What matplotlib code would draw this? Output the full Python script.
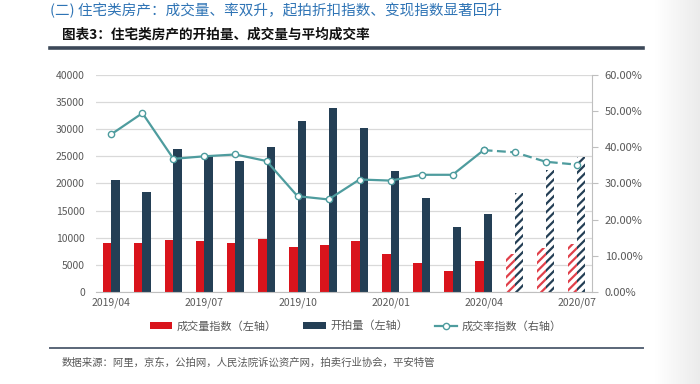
import matplotlib
matplotlib.use("Agg")
import matplotlib.pyplot as plt
import numpy as np
from matplotlib.lines import Line2D
from matplotlib.patches import Patch
from matplotlib.colors import LinearSegmentedColormap
from matplotlib.ticker import FuncFormatter, MultipleLocator

plt.rcParams["font.family"] = ["Noto Sans CJK SC", "DejaVu Sans"]
plt.rcParams["hatch.linewidth"] = 1.6

# Monthly data, 2019/04 - 2020/07 (last three months are forecasts, drawn hatched/dashed)
months = ["2019/04", "2019/05", "2019/06", "2019/07", "2019/08", "2019/09",
          "2019/10", "2019/11", "2019/12", "2020/01", "2020/02", "2020/03",
          "2020/04", "2020/05", "2020/06", "2020/07"]
deal_index = [9000, 9150, 9650, 9400, 9150, 9750, 8400, 8650, 9400, 6950,
              5450, 3850, 5700, 7050, 8100, 8850]
auction_count = [20700, 18400, 26250, 25000, 24050, 26800, 31500, 33900, 30150,
                 22250, 17250, 11950, 14450, 18250, 22400, 24800]
deal_rate = [43.6, 49.4, 36.8, 37.5, 38.0, 36.2, 26.5, 25.6, 31.1, 30.8,
             32.4, 32.4, 39.2, 38.6, 36.0, 35.2]
n_actual = 13  # first 13 months are actual values
tick_labels = ["2019/04", "2019/07", "2019/10", "2020/01", "2020/04", "2020/07"]

RED = "#d9141c"
NAVY = "#243f55"
TEAL = "#4e9c9e"
GRID = "#d9d9d9"
TXT = "#595959"

fig = plt.figure(figsize=(7, 3.84), dpi=100)

# light gray page edge on the right
bg = fig.add_axes([0.935, 0, 0.065, 1])
grad = np.linspace(0, 1, 50).reshape(1, -1)
bg.imshow(grad, aspect="auto", extent=[0, 1, 0, 1],
          cmap=LinearSegmentedColormap.from_list("edge", ["#ffffff", "#ebebeb"]))
bg.axis("off")

ax = fig.add_axes([0.137, 0.2388, 0.709, 0.5667])
ax2 = ax.twinx()

x = np.arange(len(months))
w = 0.28
for i in x:
    if i >= n_actual:
        ax.bar(i - w / 2, deal_index[i], w, facecolor="white", edgecolor="#e0404a",
               linewidth=0, hatch="////")
        ax.bar(i + w / 2, auction_count[i], w, facecolor="white", edgecolor=NAVY,
               linewidth=0, hatch="////")
    else:
        ax.bar(i - w / 2, deal_index[i], w, color=RED)
        ax.bar(i + w / 2, auction_count[i], w, color=NAVY)

ax.set_xlim(-0.5, len(months) - 0.5)
ax.set_ylim(0, 40000)
ax.yaxis.set_major_locator(MultipleLocator(5000))
ax.grid(axis="y", color=GRID, linewidth=0.9)
ax.set_axisbelow(True)
ax.set_xticks([months.index(t) for t in tick_labels])
ax.set_xticklabels(tick_labels)
ax.tick_params(axis="x", length=0, colors=TXT, labelsize=7.5, pad=4)
ax.tick_params(axis="y", length=0, colors=TXT, labelsize=7.5, pad=8)
for s in ["top", "left", "right"]:
    ax.spines[s].set_visible(False)
ax.spines["bottom"].set_color("#bfbfbf")

# rate line on the right axis
ax2.plot(x[:n_actual], deal_rate[:n_actual], color=TEAL, linewidth=1.6,
         marker="o", markersize=4.5, markerfacecolor="white",
         markeredgecolor=TEAL, markeredgewidth=1)
ax2.plot(x[n_actual - 1:], deal_rate[n_actual - 1:], color=TEAL, linewidth=1.6,
         linestyle=(0, (4, 2)), marker="o", markersize=4.5,
         markerfacecolor="white", markeredgecolor=TEAL, markeredgewidth=1)
ax2.set_ylim(0, 60)
ax2.yaxis.set_major_locator(MultipleLocator(10))
ax2.yaxis.set_major_formatter(FuncFormatter(lambda v, p: f"{v:.2f}%"))
ax2.tick_params(axis="y", colors=TXT, labelsize=8, length=4, pad=5)
ax2.tick_params(axis="y", color="#bfbfbf")
for s in ["top", "left", "bottom"]:
    ax2.spines[s].set_visible(False)
ax2.spines["right"].set_color("#bfbfbf")

handles = [
    Patch(facecolor=RED, label="成交量指数（左轴）"),
    Patch(facecolor=NAVY, label="开拍量（左轴）"),
    Line2D([0], [0], color=TEAL, linewidth=1.6, marker="o", markersize=4.5,
           markerfacecolor="white", markeredgecolor=TEAL, label="成交率指数（右轴）"),
]
fig.legend(handles=handles, loc="center", bbox_to_anchor=(0.508, 0.151), ncol=3,
           frameon=False, fontsize=8, labelcolor=TXT, handlelength=2.0,
           handleheight=0.5, columnspacing=2.4, handletextpad=0.4)

# page header and footer
fig.text(0.071, 0.974, "(二) 住宅类房产：成交量、率双升，起拍折扣指数、变现指数显著回升",
         color="#2f74b5", fontsize=10.5, va="center", ha="left")
fig.text(0.088, 0.911, "图表3：住宅类房产的开拍量、成交量与平均成交率",
         color="#111111", fontsize=9.8, fontweight="bold", va="center", ha="left")
fig.add_artist(Line2D([0.072, 0.918], [0.875, 0.875], color="#3c4858",
                      linewidth=2.6, transform=fig.transFigure))
fig.add_artist(Line2D([0.072, 0.918], [0.094, 0.094], color="#5a6678",
                      linewidth=1.4, transform=fig.transFigure))
fig.text(0.088, 0.057, "数据来源：阿里，京东，公拍网，人民法院诉讼资产网，拍卖行业协会，平安特管",
         color=TXT, fontsize=7.5, style="italic", va="center", ha="left")

fig.savefig("out.png", dpi=100)
